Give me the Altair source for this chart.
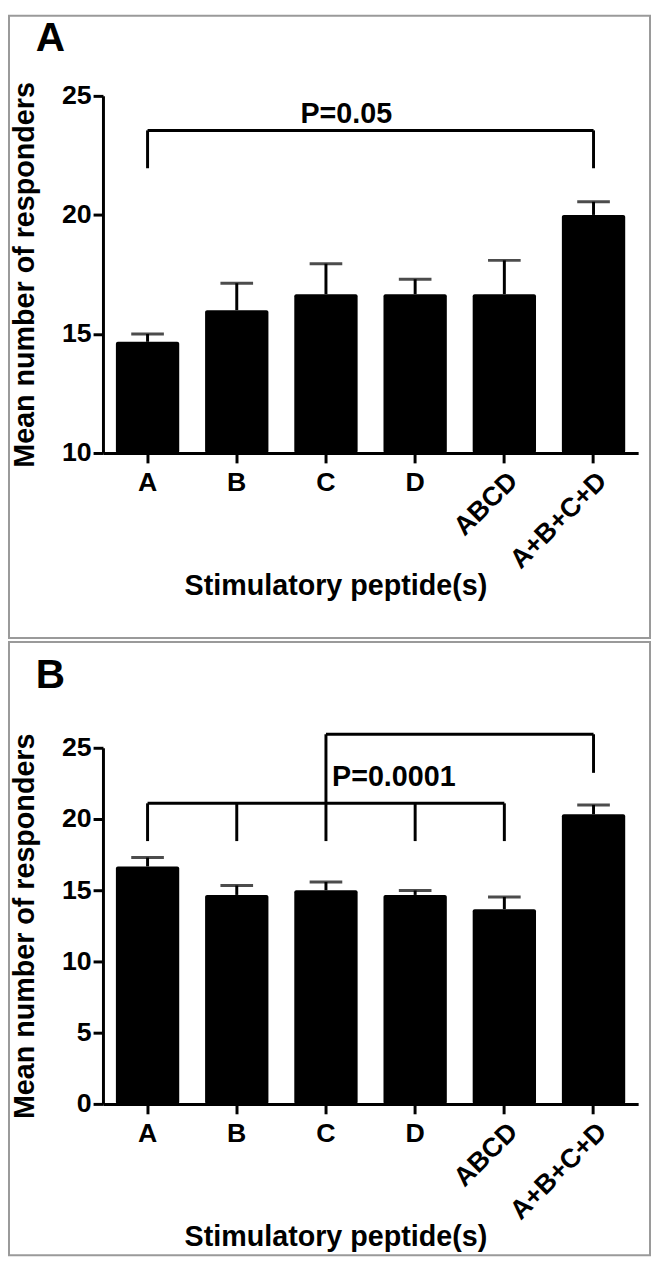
import altair as alt
import pandas as pd

categories = ["A", "B", "C", "D", "ABCD", "A+B+C+D"]
rotated = ["ABCD", "A+B+C+D"]

# Panel A
means_a = [14.67, 16.0, 16.67, 16.67, 16.67, 20.0]
sem_a = [0.33, 1.13, 1.28, 0.63, 1.42, 0.55]
# Panel B
means_b = [16.67, 14.67, 15.0, 14.67, 13.67, 20.33]
sem_b = [0.62, 0.66, 0.58, 0.31, 0.86, 0.66]

# bracket segments: from category, to category, y start, y end
br_a_from = ["A", "A", "A+B+C+D"]
br_a_to = ["A+B+C+D", "A", "A+B+C+D"]
br_a_y1 = [23.55, 23.55, 23.55]
br_a_y2 = [23.55, 21.96, 21.96]

br_b_from = ["A", "A", "B", "C", "D", "ABCD", "C", "A+B+C+D"]
br_b_to = ["ABCD", "A", "B", "C", "D", "ABCD", "A+B+C+D", "A+B+C+D"]
br_b_y1 = [21.1, 21.1, 21.1, 25.95, 21.1, 21.1, 25.95, 25.95]
br_b_y2 = [21.1, 18.45, 18.45, 18.45, 18.45, 18.45, 25.95, 23.24]

p_text_a, p_y_a = "P=0.05", 23.84
p_text_b, p_y_b = "P=0.0001", 22.29

FONT = "Liberation Sans"
W = 541


def panel(letter, means, sems, bf, bt, by1, by2, ydom, yticks, ptext, py, px, H,
          frame_top, frame_bottom, letter_y):
    df = pd.DataFrame({"cat": categories, "mean": means,
                       "top": [m + s for m, s in zip(means, sems)],
                       "base": [ydom[0]] * len(categories)})
    br = pd.DataFrame({"c1": bf, "c2": bt, "y1": by1, "y2": by2})
    xscale = alt.Scale(domain=categories, paddingInner=0.29, paddingOuter=0.145)
    yscale = alt.Scale(domain=ydom, nice=False, zero=False)
    xaxis = alt.Axis(
        title="Stimulatory peptide(s)", labelAngle=0,
        labelExpr="datum.label == 'ABCD' || datum.label == 'A+B+C+D' ? '' : datum.label",
        tickSize=10, tickWidth=3, domainWidth=3, domainColor="black", tickColor="black",
        labelFont=FONT, labelFontSize=27, labelFontWeight="bold", labelColor="black",
        labelPadding=7, titleFont=FONT, titleFontSize=29, titleFontWeight="bold",
        titleColor="black", titlePadding=77, titleX=235, titleAlign="center", grid=False)
    yaxis = alt.Axis(
        title="Mean number of responders", values=yticks,
        tickSize=10, tickWidth=3, domainWidth=3, domainColor="black", tickColor="black",
        labelFont=FONT, labelFontSize=27, labelFontWeight="bold", labelColor="black",
        labelPadding=2, titleFont=FONT, titleFontSize=29, titleFontWeight="bold",
        titleColor="black", titlePadding=22, grid=False)

    def X(f, **kw):
        return alt.X(f + ":N", scale=xscale, axis=xaxis, **kw)

    def Y(f):
        return alt.Y(f + ":Q", scale=yscale, axis=yaxis)

    one = pd.DataFrame({"k": [0]})

    frame = alt.Chart(one).mark_rect(fillOpacity=0, stroke="#9a9a9a", strokeWidth=2).encode(
        x=alt.value(-95), x2=alt.value(W + 12), y=alt.value(frame_top), y2=alt.value(frame_bottom))

    bars = alt.Chart(df).mark_bar(color="black", cornerRadius=2).encode(
        x=X("cat"), y=Y("mean"), y2=alt.Y2("base"))
    err = alt.Chart(df).mark_rule(color="black", strokeWidth=3).encode(
        x=X("cat"), y=Y("mean"), y2=alt.Y2("top"))
    cap = alt.Chart(df).mark_tick(color="black", size=33, thickness=3).encode(
        x=X("cat"), y=Y("top"))
    brackets = alt.Chart(br).mark_rule(color="black", strokeWidth=3).encode(
        x=X("c1", bandPosition=0.5), x2=alt.X2("c2", bandPosition=0.5),
        y=Y("y1"), y2=alt.Y2("y2"))
    ptxt = alt.Chart(pd.DataFrame({"t": [ptext], "py": [py]})).mark_text(
        font=FONT, fontSize=29, fontWeight="bold", color="black",
        align="center", baseline="alphabetic").encode(
        x=alt.value(px), y=Y("py"), text="t:N")
    letter_t = alt.Chart(pd.DataFrame({"t": [letter]})).mark_text(
        font=FONT, fontSize=41, fontWeight="bold", color="black",
        align="left", baseline="alphabetic").encode(
        x=alt.value(-68), y=alt.value(letter_y), text="t:N")
    rot = alt.Chart(df[df["cat"].isin(rotated)]).mark_text(
        font=FONT, fontSize=27, fontWeight="bold", color="black",
        align="right", baseline="top", angle=315).encode(
        x=X("cat"), y=alt.value(H + 15), text="cat:N")

    return alt.layer(frame, bars, err, cap, brackets, ptxt, letter_t, rot).properties(
        width=W, height=H)


panel_a = panel("A", means_a, sem_a, br_a_from, br_a_to, br_a_y1, br_a_y2,
                [10, 25], [10, 15, 20, 25], p_text_a, p_y_a, 246, 361, -81, 548, -45)
panel_b = panel("B", means_b, sem_b, br_b_from, br_b_to, br_b_y1, br_b_y2,
                [0, 25], [0, 5, 10, 15, 20, 25], p_text_b, p_y_b, 294, 360, -107, 513, -60)

chart = alt.vconcat(panel_a, panel_b, spacing=2).properties(
    padding=0, background="white"
).configure_view(stroke=None)

chart.save("out.html", embed_options={"renderer": "svg", "actions": False})
